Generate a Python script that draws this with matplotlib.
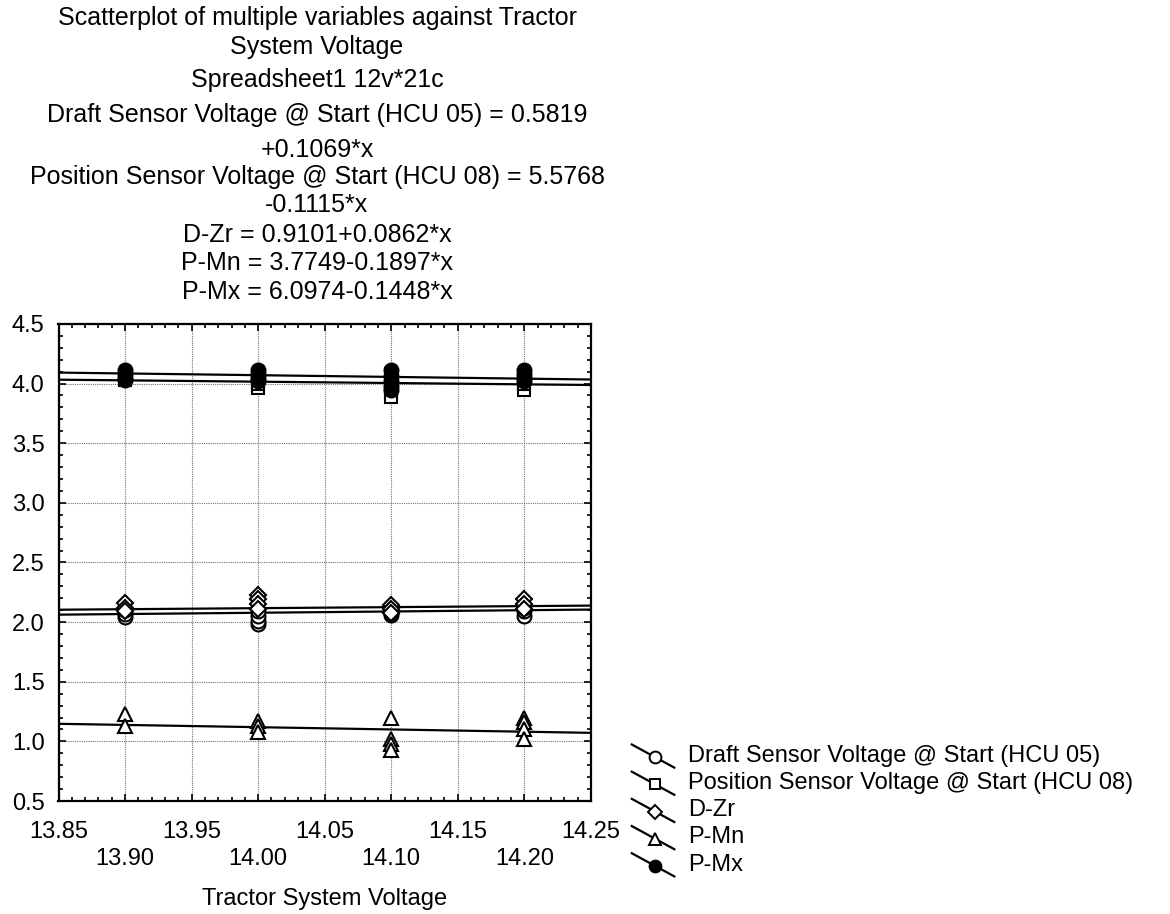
import numpy as np
import matplotlib
matplotlib.use('Agg')
import matplotlib.pyplot as plt
from matplotlib.lines import Line2D
from matplotlib.legend_handler import HandlerBase
from matplotlib.ticker import MultipleLocator, FormatStrFormatter

plt.rcParams['font.family'] = ['Liberation Sans', 'DejaVu Sans']
plt.rcParams['font.size'] = 17

# tractor system voltage levels (x)
voltage_levels = [13.9, 14.0, 14.1, 14.2]

# readings at each voltage level
draft = [[2.04, 2.07, 2.10], [1.98, 2.01, 2.05, 2.09], [2.06, 2.08, 2.10], [2.05, 2.09, 2.12]]
position = [[4.03, 4.05, 4.07], [3.96, 4.00, 4.04], [4.08, 3.97, 3.93, 3.89], [3.95, 4.00, 4.03]]
d_zr = [[2.16, 2.12, 2.09], [2.23, 2.19, 2.15, 2.11], [2.14, 2.11, 2.08], [2.19, 2.15, 2.11]]
p_mn = [[1.23, 1.13], [1.17, 1.13, 1.08], [1.20, 1.02, 0.98, 0.93], [1.20, 1.16, 1.10, 1.02]]
p_mx = [[4.11, 4.08, 4.05, 4.03], [4.11, 4.08, 4.05, 4.02], [4.11, 4.06, 4.02, 3.98, 3.95], [4.11, 4.08, 4.05, 4.02]]

names = ['Draft Sensor Voltage @ Start (HCU 05)', 'Position Sensor Voltage @ Start (HCU 08)',
         'D-Zr', 'P-Mn', 'P-Mx']
series = [draft, position, d_zr, p_mn, p_mx]
# fitted lines as printed in the header
intercepts = [0.5819, 5.5768, 0.9101, 3.7749, 6.0974]
slopes = [0.1069, -0.1115, 0.0862, -0.1897, -0.1448]

markers = ['o', 's', 'D', '^', 'o']
sizes = [10, 9, 8, 10, 10]
faces = ['white', 'white', 'white', 'white', 'black']


class SlantHandler(HandlerBase):
    def create_artists(self, legend, orig_handle, xdescent, ydescent, width, height, fontsize, trans):
        x0, x1 = -xdescent, -xdescent + width
        y0, y1 = -ydescent + height * 1.05, -ydescent - height * 0.35
        seg = Line2D([x0, x1], [y0, y1], color='black', lw=1.6, transform=trans)
        f = 0.55
        mk = Line2D([x0 + f * (x1 - x0)], [y0 + f * (y1 - y0)], linestyle='none',
                    marker=orig_handle.get_marker(), markersize=orig_handle.get_markersize() * 0.85,
                    markerfacecolor=orig_handle.get_markerfacecolor(), markeredgecolor='black',
                    markeredgewidth=1.4, transform=trans)
        return [seg, mk]


fig = plt.figure(figsize=(11.7, 9.14), dpi=100)
ax = fig.add_axes([0.05, 0.1236, 0.455, 0.522])

xline = np.array([13.85, 14.25])
for a, b in zip(intercepts, slopes):
    ax.plot(xline, a + b * xline, color='black', lw=1.6, zorder=3)

handles = []
for vals, m, s, fc in zip(series, markers, sizes, faces):
    xs, ys = [], []
    for x, v in zip(voltage_levels, vals):
        xs += [x] * len(v)
        ys += v
    h, = ax.plot(xs, ys, linestyle='none', marker=m, markersize=s, markerfacecolor=fc,
                 markeredgecolor='black', markeredgewidth=1.5, zorder=4)
    handles.append(h)

ax.set_xlim(13.85, 14.25)
ax.set_ylim(0.5, 4.5)
ax.xaxis.set_major_locator(MultipleLocator(0.05))
ax.xaxis.set_minor_locator(MultipleLocator(0.01))
ax.yaxis.set_major_locator(MultipleLocator(0.5))
ax.yaxis.set_minor_locator(MultipleLocator(0.1))
ax.xaxis.set_major_formatter(FormatStrFormatter('%.2f'))
ax.yaxis.set_major_formatter(FormatStrFormatter('%.1f'))
ax.tick_params(which='both', direction='in', top=True, right=True, width=1.2)
ax.tick_params(which='major', length=5)
ax.tick_params(which='minor', length=3)
ax.tick_params(axis='y', pad=10)

# staggered x labels: 13.85, 13.95 ... on the first row, 13.90, 14.00 ... below
for loc, t in zip(ax.get_xticks(), ax.xaxis.get_major_ticks()):
    k = int(round((loc - 13.85) / 0.05))
    t.set_pad(14.5 if k % 2 == 0 else 33.5)

ax.grid(True, which='major', linestyle=(0, (1, 1)), color='0.45', lw=0.8)
for sp in ax.spines.values():
    sp.set_linewidth(1.6)

ax.set_xlabel('Tractor System Voltage')
ax.xaxis.label.set_va('center')
ax.xaxis.set_label_coords(0.5, -0.205)

# header text
header = ['Scatterplot of multiple variables against Tractor', 'System Voltage',
          'Spreadsheet1 12v*21c',
          f'{names[0]} = {intercepts[0]:.4f}', f'{slopes[0]:+.4f}*x',
          f'{names[1]} = {intercepts[1]:.4f}', f'{slopes[1]:+.4f}*x',
          f'{names[2]} = {intercepts[2]:.4f}{slopes[2]:+.4f}*x',
          f'{names[3]} = {intercepts[3]:.4f}{slopes[3]:+.4f}*x',
          f'{names[4]} = {intercepts[4]:.4f}{slopes[4]:+.4f}*x']
header_y = [18, 47, 80, 115, 150, 177, 205, 235, 263, 292]
for txt, yp in zip(header, header_y):
    fig.text(317 / 1170, 1 - yp / 914, txt, ha='center', va='center', fontsize=18)

ax.legend(handles, names, handler_map={Line2D: SlantHandler()}, frameon=False,
          loc='lower left', bbox_to_anchor=(0.54, 0.042), bbox_transform=fig.transFigure,
          borderpad=0, borderaxespad=0, handlelength=1.8, handletextpad=0.6,
          labelspacing=0.22, fontsize=17)

fig.savefig('out.png', dpi=100)
